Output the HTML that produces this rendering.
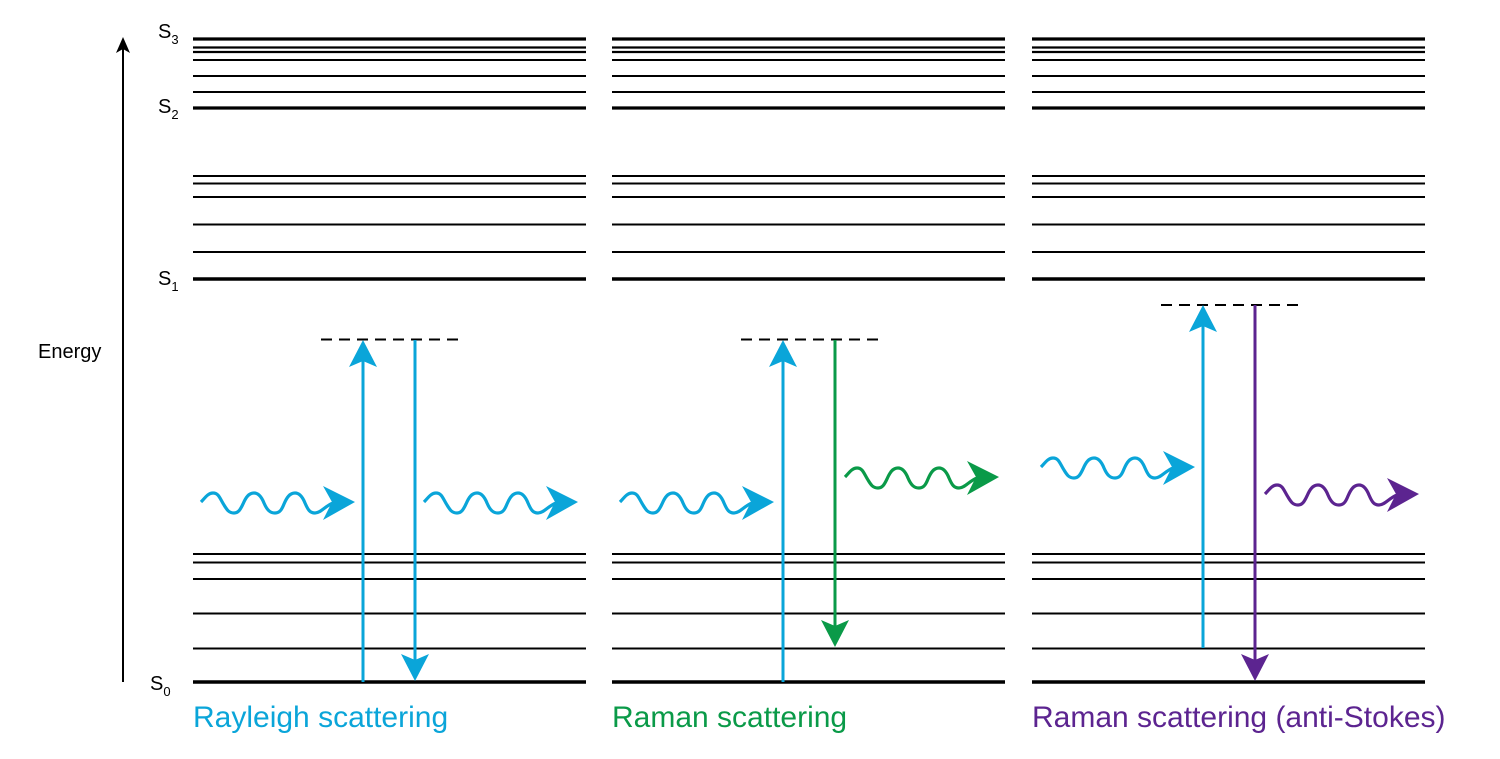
<!DOCTYPE html>
<html><head><meta charset="utf-8"><style>
html,body{margin:0;padding:0;background:#fff;}
svg{display:block;}
text{font-family:"Liberation Sans",Arial,sans-serif;}
</style></head><body>
<svg width="1500" height="759" viewBox="0 0 1500 759" xmlns="http://www.w3.org/2000/svg">
<defs>
<g id="levels" stroke="#000" fill="none">
  <line x1="0" x2="393" y1="39" y2="39" stroke-width="3.2"/>
  <line x1="0" x2="393" y1="47.5" y2="47.5" stroke-width="2.2"/>
  <line x1="0" x2="393" y1="52" y2="52" stroke-width="2.2"/>
  <line x1="0" x2="393" y1="60" y2="60" stroke-width="2"/>
  <line x1="0" x2="393" y1="76" y2="76" stroke-width="2"/>
  <line x1="0" x2="393" y1="92" y2="92" stroke-width="2"/>
  <line x1="0" x2="393" y1="108" y2="108" stroke-width="3.2"/>
  <line x1="0" x2="393" y1="176" y2="176" stroke-width="2"/>
  <line x1="0" x2="393" y1="183.5" y2="183.5" stroke-width="2"/>
  <line x1="0" x2="393" y1="197" y2="197" stroke-width="2"/>
  <line x1="0" x2="393" y1="224.5" y2="224.5" stroke-width="2"/>
  <line x1="0" x2="393" y1="252" y2="252" stroke-width="2"/>
  <line x1="0" x2="393" y1="279" y2="279" stroke-width="3.4"/>
  <line x1="0" x2="393" y1="554" y2="554" stroke-width="2"/>
  <line x1="0" x2="393" y1="562.5" y2="562.5" stroke-width="2"/>
  <line x1="0" x2="393" y1="579" y2="579" stroke-width="2"/>
  <line x1="0" x2="393" y1="613.5" y2="613.5" stroke-width="2"/>
  <line x1="0" x2="393" y1="648.5" y2="648.5" stroke-width="2"/>
  <line x1="0" x2="393" y1="682" y2="682" stroke-width="3.6"/>
</g>
<g id="wave">
  <path d="M0,0 C4,-4 7,-9 12,-9 C18,-9 19,-3 23,3 C26,8 28,11 33,11 C38,11 40,6 42,2 C45,-5 48,-9 53,-9 C58,-9 61,-4 63,1 C66,8 69,11 74,11 C79,11 81,7 83,2 C86,-5 89,-9 94,-9 C99,-9 102,-4 104,1 C107,8 109,11 114,11 C120,11 124,4 132,1 L136,0" fill="none" stroke-width="3.2"/>
  <path d="M154,0 L122,-16 L131,0 L122,18 Z" stroke="none"/>
</g>
<path id="ahUp" d="M0,0 L-14,-27 L0,-21 L14,-27 Z"/>
</defs>

<line x1="123" y1="682" x2="123" y2="46" stroke="#000" stroke-width="2"/>
<path d="M123,37 L116,53 L123,49 L130,53 Z" fill="#000"/>
<text x="38" y="358" font-size="20">Energy</text>
<text x="158" y="38" font-size="20">S<tspan font-size="13" dy="6">3</tspan></text>
<text x="158" y="113" font-size="20">S<tspan font-size="13" dy="6">2</tspan></text>
<text x="158" y="285" font-size="20">S<tspan font-size="13" dy="6">1</tspan></text>
<text x="150" y="690" font-size="20">S<tspan font-size="13" dy="6">0</tspan></text>

<use href="#levels" x="193"/>
<use href="#levels" x="612"/>
<use href="#levels" x="1032"/>

<g stroke="#000" stroke-width="2" stroke-dasharray="11,7">
<line x1="321" x2="460" y1="339.5" y2="339.5"/>
<line x1="741" x2="880" y1="339.5" y2="339.5"/>
<line x1="1161" x2="1300" y1="305" y2="305"/>
</g>

<g stroke="#0aa5d9" fill="#0aa5d9">
<line x1="363" y1="682" x2="363" y2="350" stroke-width="3"/>
<line x1="415" y1="340" x2="415" y2="670" stroke-width="3"/>
</g>
<g fill="#0aa5d9">
<use href="#ahUp" transform="translate(363,340) scale(1,-1)"/>
<use href="#ahUp" transform="translate(415,681)"/>
</g>
<g stroke="#0aa5d9" fill="#0aa5d9">
<use href="#wave" x="201" y="502"/>
<use href="#wave" x="424" y="502"/>
</g>

<line x1="783" y1="682" x2="783" y2="350" stroke="#0aa5d9" stroke-width="3"/>
<use href="#ahUp" transform="translate(783,340) scale(1,-1)" fill="#0aa5d9"/>
<g stroke="#0aa5d9" fill="#0aa5d9"><use href="#wave" x="620" y="502"/></g>
<line x1="835" y1="340" x2="835" y2="636" stroke="#0a9a48" stroke-width="3"/>
<use href="#ahUp" transform="translate(835,647)" fill="#0a9a48"/>
<g stroke="#0a9a48" fill="#0a9a48"><use href="#wave" x="845" y="477"/></g>

<line x1="1203" y1="648" x2="1203" y2="315" stroke="#0aa5d9" stroke-width="3"/>
<use href="#ahUp" transform="translate(1203,305) scale(1,-1)" fill="#0aa5d9"/>
<g stroke="#0aa5d9" fill="#0aa5d9"><use href="#wave" x="1041" y="467"/></g>
<line x1="1255" y1="305" x2="1255" y2="670" stroke="#5c2490" stroke-width="3"/>
<use href="#ahUp" transform="translate(1255,681)" fill="#5c2490"/>
<g stroke="#5c2490" fill="#5c2490"><use href="#wave" x="1265" y="494"/></g>

<text x="193" y="727" font-size="30" fill="#0aa5d9">Rayleigh scattering</text>
<text x="612" y="727" font-size="30" fill="#0a9a48">Raman scattering</text>
<text x="1032" y="727" font-size="30" fill="#5c2490">Raman scattering (anti-Stokes)</text>
</svg>
</body></html>
